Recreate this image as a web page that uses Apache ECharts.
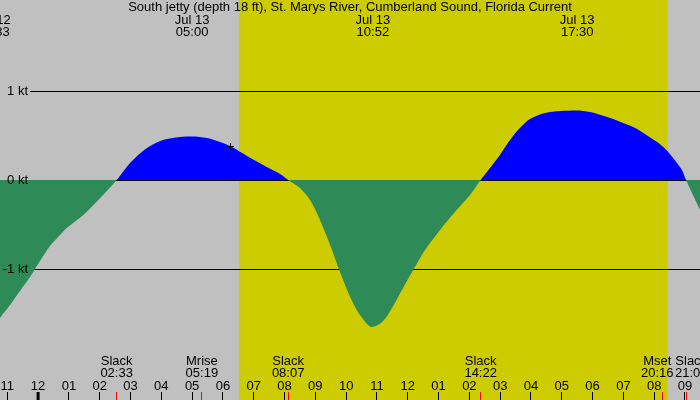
<!DOCTYPE html>
<html>
<head>
<meta charset="utf-8">
<script src="https://cdn.jsdelivr.net/npm/echarts@6/dist/echarts.min.js"></script>
<style>
  html, body { margin: 0; padding: 0; background: #c0c0c0; }
  #chart { width: 700px; height: 400px; }
</style>
</head>
<body>
<div id="chart"></div>
<script>
const title = 'South jetty (depth 18 ft), St. Marys River, Cumberland Sound, Florida Current';

// time in hours from midnight Jul 13, speed in knots (+ flood, - ebb)
const times = [-1.5, -1.237, -0.912, -0.588, -0.263, 0.062, 0.386, 0.711, 0.927, 1.469, 2.010, 2.550,
  2.984, 3.535, 4.055, 4.607, 5.0, 5.484, 5.906, 6.295, 6.782, 7.302, 7.854, 8.117,
  8.50, 8.83, 9.15, 9.48, 9.80, 10.13, 10.45, 10.84, 11.17, 11.49, 11.81, 12.14, 12.56, 13.05, 13.53, 14.02, 14.367,
  14.67, 14.99, 15.32, 15.64, 15.97, 16.46, 16.95, 17.46, 17.92, 18.40, 18.89, 19.38, 19.86, 20.2, 20.42, 20.74, 20.90, 21.033,
  21.49, 21.8];
const speeds = [-1.70, -1.551, -1.404, -1.247, -1.090, -0.910, -0.742, -0.618, -0.540, -0.393, -0.205, 0,
  0.191, 0.360, 0.449, 0.483, 0.489, 0.472, 0.427, 0.371, 0.27, 0.169, 0.067, 0,
  -0.09, -0.225, -0.449, -0.73, -1.034, -1.315, -1.517, -1.652, -1.596, -1.438, -1.236, -1.034, -0.787, -0.562, -0.36, -0.169, 0,
  0.135, 0.281, 0.449, 0.584, 0.685, 0.753, 0.775, 0.781, 0.764, 0.715, 0.655, 0.585, 0.48, 0.40, 0.33, 0.191, 0.112, 0,
  -0.337, -0.55];

const hourTicks = [-1, 0, 1, 2, 3, 4, 5, 6, 7, 8, 9, 10, 11, 12, 13, 14, 15, 16, 17, 18, 19, 20, 21];
const hourLabels = ['11', '12', '01', '02', '03', '04', '05', '06', '07', '08', '09', '10',
  '11', '12', '01', '02', '03', '04', '05', '06', '07', '08', '09'];

const peakTimes = [-1.45, 5.0, 10.867, 17.5];
const peakLabels = ['Jul 12\n22:33', 'Jul 13\n05:00', 'Jul 13\n10:52', 'Jul 13\n17:30'];

const eventTimes = [2.55, 5.317, 8.117, 14.367, 20.267, 21.033];
const eventNames = ['Slack', 'Mrise', 'Slack', 'Slack', 'Mset', 'Slack'];
const eventClock = ['02:33', '05:19', '08:07', '14:22', '20:16', '21:02'];

const levels = [1, 0, -1];
const levelLabels = ['1 kt', '0 kt', '-1 kt'];

const daylight = [6.52, 20.44];
const nowTime = [6.262];
const nowSpeed = [0.382];

const X_MIN = -1.2368, X_MAX = 21.487;
const Y_MIN = -220 / 89, Y_MAX = 180 / 89;
const FONT = '13px "Liberation Sans", Arial, sans-serif';
const FLOOD = '#0000ff', EBB = '#2e8b57';

const chart = echarts.init(document.getElementById('chart'));

const crisp = v => Math.round(v) + 0.5;
// where zero sits on the y scale, as a fraction from the top
const zeroAt = Y_MAX / (Y_MAX - Y_MIN);

const option = {
  backgroundColor: '#c0c0c0',
  animation: false,
  grid: { left: 0, right: 0, top: 0, bottom: 0 },
  xAxis: { type: 'value', min: X_MIN, max: X_MAX, show: false },
  yAxis: { type: 'value', min: Y_MIN, max: Y_MAX, show: false },
  series: [
    // daylight
    {
      type: 'custom', z: 1, silent: true,
      data: [[daylight[0], daylight[1]]],
      renderItem: (params, api) => {
        const a = api.coord([api.value(0), Y_MAX]);
        const b = api.coord([api.value(1), Y_MIN]);
        return { type: 'rect', shape: { x: a[0], y: a[1], width: b[0] - a[0], height: b[1] - a[1] },
          style: { fill: '#cccc00' } };
      }
    },
    // level lines (under the curve)
    {
      type: 'custom', z: 2, silent: true,
      data: levels.map(l => [X_MIN, l]),
      renderItem: (params, api) => {
        const p = api.coord([api.value(0), api.value(1)]);
        const y = crisp(p[1] - 0.5);
        return { type: 'line', shape: { x1: 30, y1: y, x2: 700, y2: y },
          style: { stroke: '#000', lineWidth: 1 } };
      }
    },
    // current
    {
      type: 'line', z: 3, smooth: 0.3, symbol: 'none', silent: true,
      data: times.map((t, i) => [t, speeds[i]]),
      lineStyle: { width: 0 },
      areaStyle: {
        opacity: 1,
        color: {
          type: 'linear', x: 0, y: 0, x2: 0, y2: 400,
          colorStops: [
            { offset: 0, color: FLOOD }, { offset: zeroAt, color: FLOOD },
            { offset: zeroAt, color: EBB }, { offset: 1, color: EBB }
          ],
          global: true
        }
      }
    },
    // level labels
    {
      type: 'custom', z: 4, silent: true,
      data: levels.map((l, i) => [X_MIN, l, i]),
      renderItem: (params, api) => {
        const p = api.coord([api.value(0), api.value(1)]);
        return { type: 'text', style: { text: levelLabels[params.dataIndex], x: 28, y: p[1] + 0.5,
          align: 'right', verticalAlign: 'middle', font: FONT, fill: '#000' } };
      }
    },
    // hour ticks + labels
    {
      type: 'custom', z: 4, silent: true,
      data: hourTicks.map(h => [h, Y_MIN]),
      renderItem: (params, api) => {
        const p = api.coord([api.value(0), Y_MIN]);
        const thick = hourTicks[params.dataIndex] === 0;
        const x = thick ? p[0] : crisp(p[0] - 0.5);
        return { type: 'group', children: [
          { type: 'line', shape: { x1: x, y1: 392, x2: x, y2: 400 }, style: { stroke: '#000', lineWidth: thick ? 3 : 1 } },
          { type: 'text', style: { text: hourLabels[params.dataIndex], x: p[0], y: 386,
            align: 'center', verticalAlign: 'middle', font: FONT, fill: '#000' } }
        ] };
      }
    },
    // events (slack, moon)
    {
      type: 'custom', z: 5, silent: true,
      data: eventTimes.map(t => [t, Y_MIN]),
      renderItem: (params, api) => {
        const i = params.dataIndex;
        const p = api.coord([api.value(0), Y_MIN]);
        const xs = eventTimes.map(t => api.coord([t, Y_MIN])[0]);
        let shift = 0;
        if (i + 1 < xs.length && xs[i + 1] - xs[i] < 34) shift -= (34 - (xs[i + 1] - xs[i])) / 2;
        if (i > 0 && xs[i] - xs[i - 1] < 34) shift += (34 - (xs[i] - xs[i - 1])) / 2;
        const x = crisp(p[0] - 0.5);
        return { type: 'group', children: [
          { type: 'line', shape: { x1: x, y1: 392, x2: x, y2: 400 }, style: { stroke: '#ff0000', lineWidth: 1 } },
          { type: 'text', style: { text: eventNames[i] + '\n' + eventClock[i], x: p[0] + shift, y: 367.5,
            align: 'center', verticalAlign: 'middle', lineHeight: 12.5, font: FONT, fill: '#000' } }
        ] };
      }
    },
    // peak labels + title
    {
      type: 'custom', z: 5, silent: true,
      data: peakTimes.map(t => [t, Y_MAX]),
      renderItem: (params, api) => {
        const p = api.coord([api.value(0), Y_MAX]);
        const children = [
          { type: 'text', style: { text: peakLabels[params.dataIndex], x: p[0], y: 26.5,
            align: 'center', verticalAlign: 'middle', lineHeight: 12.3, font: FONT, fill: '#000' } }
        ];
        if (params.dataIndex === 0) {
          children.push({ type: 'text', style: { text: title, x: 350, y: 7.5,
            align: 'center', verticalAlign: 'middle', font: FONT, fill: '#000' } });
        }
        return { type: 'group', children };
      }
    },
    // now marker
    {
      type: 'custom', z: 6, silent: true,
      data: nowTime.map((t, i) => [t, nowSpeed[i]]),
      renderItem: (params, api) => {
        const p = api.coord([api.value(0), api.value(1)]);
        const x = crisp(p[0] - 0.5), y = crisp(p[1] - 0.5);
        return { type: 'group', children: [
          { type: 'line', shape: { x1: x - 3.5, y1: y, x2: x + 3.5, y2: y }, style: { stroke: '#000', lineWidth: 1 } },
          { type: 'line', shape: { x1: x, y1: y - 3.5, x2: x, y2: y + 3.5 }, style: { stroke: '#000', lineWidth: 1 } }
        ] };
      }
    }
  ]
};

chart.setOption(option);
</script>
</body>
</html>
